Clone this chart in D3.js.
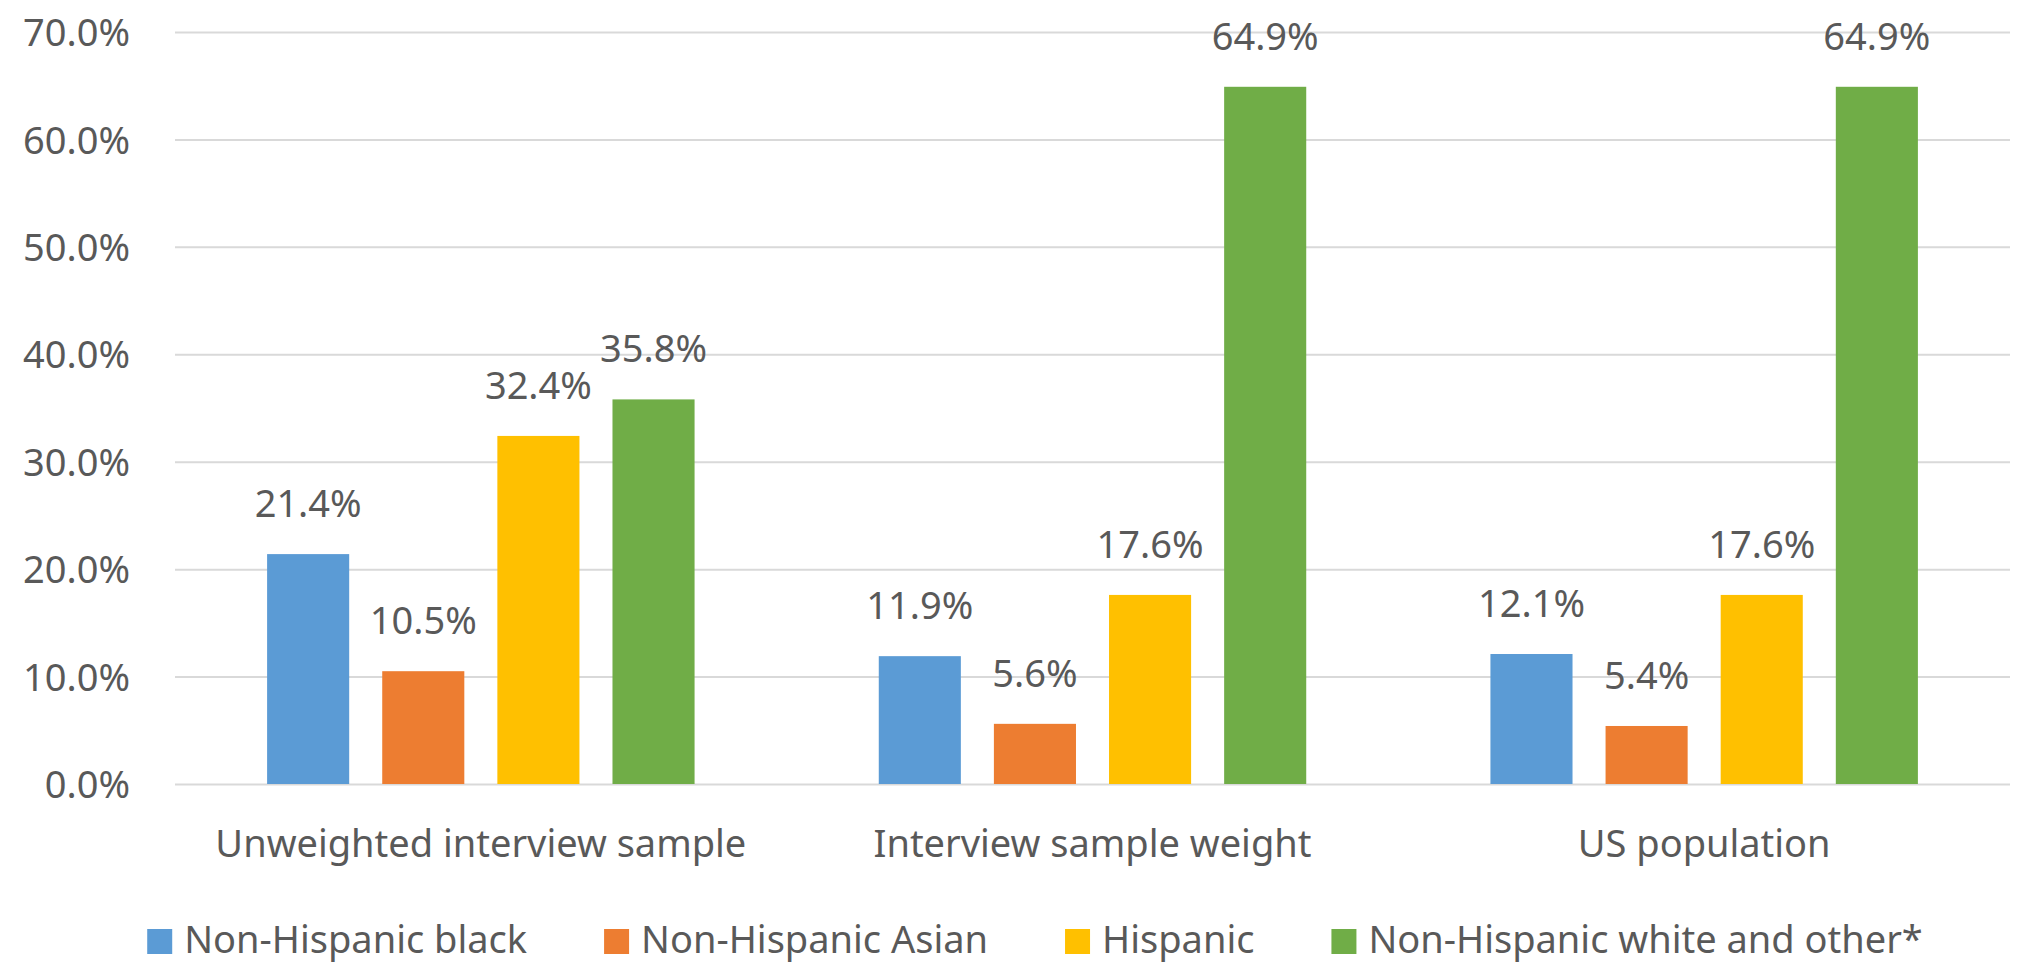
<!DOCTYPE html>
<html>
<head>
<meta charset="utf-8">
<title>Interview sample by race / ethnicity</title>
<script src="https://cdn.jsdelivr.net/npm/d3@7"></script>
<style>
    body { margin: 0; background: #fff; }
    svg text { font-family: "Noto Sans", "Open Sans", sans-serif; fill: #595959; }
    .grid line { stroke: #d9d9d9; stroke-width: 2px; }
</style>
</head>
<body>
<div id="chart"></div>
<script>
// chart values
let groups = ["Unweighted interview sample", "Interview sample weight", "US population"];
let series = ["Non-Hispanic black", "Non-Hispanic Asian", "Hispanic", "Non-Hispanic white and other*"];
let colors = ["#5b9bd5", "#ed7d31", "#ffc000", "#70ad47"];
let blackVals = [0.214, 0.119, 0.121];
let asianVals = [0.105, 0.056, 0.054];
let hispanicVals = [0.324, 0.176, 0.176];
let whiteVals = [0.358, 0.649, 0.649];
let yTicks = [0, 0.1, 0.2, 0.3, 0.4, 0.5, 0.6, 0.7];

let allVals = [blackVals, asianVals, hispanicVals, whiteVals];

function buildRows() {
    let rows = [];
    groups.forEach((g, gi) => {
        series.forEach((s, si) => {
            rows.push({ group: g, series: s, value: allVals[si][gi] });
        });
    });
    return rows;
}

function getConfig() {
    let width = 2018;
    let height = 966;
    let margin = { top: 32, left: 175, right: 8, bottom: 182 };
    let bodyWidth = width - margin.left - margin.right;
    let bodyHeight = height - margin.top - margin.bottom;
    let svg = d3.select("#chart").append("svg")
        .attr("width", width)
        .attr("height", height);
    let container = svg.append("g")
        .attr("transform", "translate(" + [margin.left, margin.top] + ")");
    return { width, height, margin, bodyWidth, bodyHeight, svg, container };
}

function getScales(config) {
    let { bodyWidth, bodyHeight } = config;
    let x0 = d3.scaleBand()
        .domain(groups)
        .range([0, bodyWidth]);
    let x1 = d3.scaleBand()
        .domain(series)
        .range([0, x0.bandwidth()])
        .paddingInner(0.287)
        .paddingOuter(0.8);
    let y = d3.scaleLinear()
        .domain([0, 0.7])
        .range([bodyHeight, 0]);
    let color = d3.scaleOrdinal().domain(series).range(colors);
    return { x0, x1, y, color };
}

function drawAxes(config, scales) {
    let { container, bodyWidth, bodyHeight } = config;
    let { x0, y } = scales;

    let yAxis = d3.axisLeft(y)
        .tickValues(yTicks)
        .tickFormat(d3.format(".1%"))
        .tickSizeInner(-bodyWidth)
        .tickSizeOuter(0)
        .tickPadding(45);
    let gy = container.append("g").attr("class", "grid").call(yAxis);
    gy.select(".domain").remove();
    gy.selectAll("text")
        .style("font-size", "38px")
        .attr("dy", "0.36em");

    let xAxis = d3.axisBottom(x0).tickSize(0).tickPadding(0);
    let gx = container.append("g")
        .attr("transform", "translate(0," + bodyHeight + ")")
        .call(xAxis);
    gx.select(".domain").remove();
    gx.selectAll("text")
        .style("font-size", "38px")
        .attr("y", 73)
        .attr("dy", 0);
}

function drawBars(rows, config, scales) {
    let { container, bodyHeight } = config;
    let { x0, x1, y, color } = scales;

    container.selectAll("rect.bar")
        .data(rows)
        .enter()
        .append("rect")
        .attr("class", "bar")
        .attr("x", d => x0(d.group) + x1(d.series))
        .attr("y", d => y(d.value))
        .attr("width", x1.bandwidth())
        .attr("height", d => bodyHeight - y(d.value))
        .attr("fill", d => color(d.series));

    container.selectAll("text.lbl")
        .data(rows)
        .enter()
        .append("text")
        .attr("class", "lbl")
        .attr("x", d => x0(d.group) + x1(d.series) + x1.bandwidth() / 2)
        .attr("y", d => y(d.value) - 37)
        .attr("text-anchor", "middle")
        .style("font-size", "38px")
        .text(d => d3.format(".1%")(d.value));
}

function drawLegend(config, scales) {
    let { svg } = config;
    let { color } = scales;
    let box = 25, gapText = 12, gapItem = 77;
    let legend = svg.append("g");
    let items = legend.selectAll("g")
        .data(series)
        .enter()
        .append("g");
    items.append("rect")
        .attr("width", box)
        .attr("height", box)
        .attr("y", -box + 1)
        .attr("fill", d => color(d));
    items.append("text")
        .attr("x", box + gapText)
        .style("font-size", "38px")
        .text(d => d);

    let xPos = 0;
    items.each(function () {
        let w = d3.select(this).select("text").node().getComputedTextLength();
        d3.select(this).attr("transform", "translate(" + xPos + ",0)");
        xPos += box + gapText + w + gapItem;
    });
    let total = xPos - gapItem;
    legend.attr("transform", "translate(" + (1035 - total / 2) + ",953)");
}

let rows = buildRows();
let config = getConfig();
let scales = getScales(config);
drawAxes(config, scales);
drawBars(rows, config, scales);
drawLegend(config, scales);
</script>
</body>
</html>
